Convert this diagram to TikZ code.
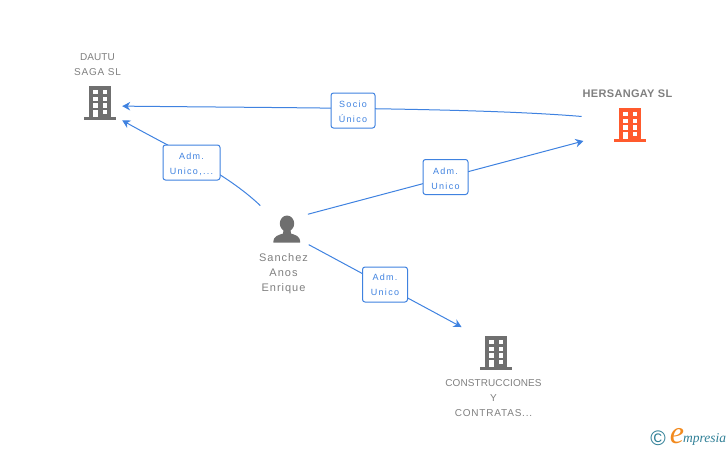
\documentclass[tikz,border=0pt]{standalone}
\usepackage{fontspec}
\setmainfont{Liberation Sans}
\newfontfamily\logofont{Liberation Serif}
\usetikzlibrary{arrows.meta}
\definecolor{linkblue}{HTML}{3F82E0}
\definecolor{namegray}{HTML}{7F7F7F}
\definecolor{icongray}{HTML}{6F6F6F}
\definecolor{iconred}{HTML}{FF5A2D}
\definecolor{logoteal}{HTML}{2F7F96}
\definecolor{logoorange}{HTML}{F28A1E}
\newcommand{\lowerline}{\rule{0pt}{9.5pt}}
\newcommand{\spaced}[1]{{\addfontfeature{LetterSpace=8}#1}}
\tikzset{
    flow/.style={draw=linkblue, line width=1pt, -{Stealth[length=8pt,width=8.5pt]}},
    linkbox/.style={draw=linkblue, fill=white, line width=1pt, rounded corners=2.5pt, inner sep=0pt,
        minimum width=45pt, minimum height=35pt, align=center, text=linkblue,
        font=\fontsize{9}{15}\addfontfeature{LetterSpace=14}\selectfont},
    namelabel/.style={text=namegray, align=center, inner sep=0pt, font=\fontsize{10}{15}\addfontfeature{LetterSpace=1}\selectfont},
    personlabel/.style={text=namegray, align=center, inner sep=0pt, font=\fontsize{11}{15}\addfontfeature{LetterSpace=9}\selectfont},
    buildinglabel/.style={text=namegray, inner sep=0pt, font=\fontsize{11}{15}\bfseries\addfontfeature{LetterSpace=3}\selectfont},
    holder/.style={inner sep=0pt, minimum size=#1},
    pics/buildingicon/.style={code={
        \fill[pic actions] (-11,-17) rectangle (11,15);
        \fill[pic actions] (-16,14) rectangle (16,16.7);
        \foreach \wx in {-7,2.7} \foreach \wy in {-13,-6,0.3,6.7}
            \fill[white] (\wx,\wy) rectangle +(4.7,4.4);
        \fill[white] (-7,6.7) rectangle (-2.3,14);
    }},
    pics/personicon/.style={code={
        \fill[pic actions] (0,-6.5) ellipse (7.2 and 8);
        \fill[pic actions] (-3.5,0) -- (3.5,0) -- (4,3.5) .. controls (9,5.5) and (13,5.5) .. (13.2,12.7)
            -- (-13.7,12.7) .. controls (-13.5,5.5) and (-9,5.5) .. (-4,3.5) -- cycle;
    }}
}
\begin{document}
\begin{tikzpicture}[x=1pt,y=-1pt]
    \useasboundingbox (0,0) rectangle (728,450);

    \node [holder=44pt, rectangle] (dautu) at (100,103) {};
    \node [holder=98pt, circle] (hersangay) at (630,125) {};
    \node [holder=52pt, circle] (sanchez) at (287,230) {};
    \node [holder=86pt, circle] (construcciones) at (496,353) {};

    \pic [fill=icongray] at (dautu) {buildingicon};
    \pic [fill=iconred] at (hersangay) {buildingicon};
    \pic [fill=icongray] at (construcciones) {buildingicon};
    \pic [fill=icongray] at (sanchez) {personicon};

    \node [namelabel] (dautuname) at (97.5,64.5) {DAUTU\\\spaced{SAGA SL}};
    \node [buildinglabel] (hersangayname) at (627.5,93.5) {HERSANGAY SL};
    \node [personlabel] (sanchezname) at (283.5,273.5) {Sanchez\\Anos\\Enrique};
    \node [namelabel] (construccionesname) at (493.5,398) {CONSTRUCCIONES\\Y\\\spaced{CONTRATAS...}};

    \draw [flow] (hersangay.170) .. controls (480,108) and (300,108) .. (dautu.-8);
    \draw [flow, shorten <=10pt] (sanchez.138) .. controls (225,172) and (175,150) .. (dautu.-38);
    \draw [flow] (sanchez.37) -- (hersangay.199);
    \draw [flow] (sanchez.-34) -- (construcciones.143);

    \node [linkbox, minimum width=44pt] (socio) at (353,110.5) {\lowerline Socio\\Único};
    \node [linkbox, minimum width=57pt] (admdautu) at (191.5,162.5) {\lowerline Adm.\\Unico,...};
    \node [linkbox] (admhersangay) at (445.5,177) {\lowerline Adm.\\Unico};
    \node [linkbox] (admconstrucciones) at (385,284.5) {Adm.\\Unico};

    % logo
    \node [text=logoteal, inner sep=0pt, font=\fontsize{21}{21}\selectfont] (logocopy) at (658,438) {©};
    \node [text=logoorange, inner sep=0pt, font=\fontsize{32}{32}\logofont\itshape] (logoe) at (677,436) {e};
    \node [text=logoteal, inner sep=0pt, anchor=west, font=\fontsize{13.5}{13.5}\logofont\itshape] (logotext) at (683,439) {mpresia};
\end{tikzpicture}
\end{document}
